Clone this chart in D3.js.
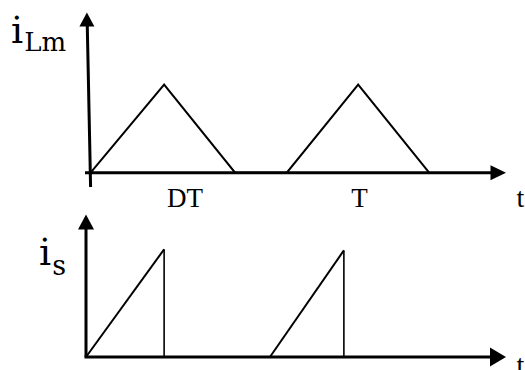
<!DOCTYPE html>
<html>
<head>
<meta charset="utf-8">
<script src="https://cdn.jsdelivr.net/npm/d3@7"></script>
<style>
  html, body { margin: 0; padding: 0; background: #fff; }
  svg { display: block; }
</style>
</head>
<body>
<script>
// Magnetizing current i_Lm: two triangular pulses per period
const tLm = [0.11, 1.86, 3.55, 4.78, 6.48, 8.17];
const iLm = [0, 1, 0, 0, 1, 0];

// Switch current i_s: ramps that drop to zero when the switch opens
const tS = [0, 1.86, 1.86, 4.38, 6.14, 6.14];
const iS = [0, 1, 0, 0, 0.99, 0];

// Time-axis tick labels
const tickLabels = ["DT", "T"];
const tickTimes = [2.36, 6.51];

const W = 525, H = 370;
const svg = d3.select("body").append("svg")
  .attr("width", W).attr("height", H)
  .attr("viewBox", `0 0 ${W} ${H}`);

// shared time scale
const x = d3.scaleLinear().domain([0, 10]).range([86, 506]);

// one y scale per panel
const yTop = d3.scaleLinear().domain([0, 1]).range([172.7, 84.5]);
const yBot = d3.scaleLinear().domain([0, 1]).range([357, 249.3]);

const line = (y) => d3.line().x(d => x(d[0])).y(d => y(d[1]));

function arrowHead(g, tipX, tipY, dir, len, half) {
  let pts;
  if (dir === "right") pts = [[tipX, tipY], [tipX - len, tipY - half], [tipX - len, tipY + half]];
  else pts = [[tipX, tipY], [tipX - half, tipY + len], [tipX + half, tipY + len]];
  g.append("path").attr("d", "M" + pts.join("L") + "Z").attr("fill", "#000");
}

const serif = "'Liberation Serif', 'Times New Roman', serif";

// ---------- upper panel ----------
const gTop = svg.append("g");
// vertical axis (slightly leaning, hand-drawn look)
gTop.append("line")
  .attr("x1", 87.2).attr("y1", 22).attr("x2", 90.6).attr("y2", 187)
  .attr("stroke", "#000").attr("stroke-width", 3);
arrowHead(gTop, 86.9, 12.5, "up", 14, 7.5);
// horizontal axis
gTop.append("line")
  .attr("x1", 85).attr("y1", yTop(0)).attr("x2", 495).attr("y2", yTop(0))
  .attr("stroke", "#000").attr("stroke-width", 3);
arrowHead(gTop, 506, yTop(0), "right", 15.5, 7.5);

gTop.append("path")
  .datum(d3.zip(tLm, iLm))
  .attr("d", line(yTop))
  .attr("fill", "none").attr("stroke", "#000").attr("stroke-width", 2)
  .attr("stroke-linejoin", "miter");

// tick labels under the upper time axis
gTop.selectAll("text.tick")
  .data(d3.zip(tickLabels, tickTimes))
  .join("text")
  .attr("class", "tick")
  .attr("x", d => x(d[1])).attr("y", 206.5)
  .attr("text-anchor", "middle")
  .attr("font-family", serif)
  .attr("font-size", 27)
  .text(d => d[0]);

gTop.append("text")
  .attr("x", 516.5).attr("y", 207)
  .attr("font-family", serif)
  .attr("font-size", 28)
  .text("t");

// i_Lm label
const lblTop = gTop.append("text")
  .attr("x", 11).attr("y", 42.7)
  .attr("font-family", "'DejaVu Serif', serif");
lblTop.append("tspan").attr("font-size", 38).text("i");
lblTop.append("tspan").attr("font-size", 26).attr("dx", 1).attr("dy", 8).text("Lm");

// ---------- lower panel ----------
const gBot = svg.append("g");
gBot.append("line")
  .attr("x1", 86).attr("y1", 226).attr("x2", 86).attr("y2", yBot(0))
  .attr("stroke", "#000").attr("stroke-width", 3);
arrowHead(gBot, 86, 214.5, "up", 15, 8);
gBot.append("line")
  .attr("x1", 84.5).attr("y1", yBot(0)).attr("x2", 495).attr("y2", yBot(0))
  .attr("stroke", "#000").attr("stroke-width", 3);
arrowHead(gBot, 506, yBot(0), "right", 16, 9.5);

// ramps (rising edges) and the sharp turn-off edges
const segs = d3.zip(tS, iS);
for (let k = 0; k < segs.length - 1; k++) {
  const a = segs[k], b = segs[k + 1];
  if (a[1] === 0 && b[1] === 0) continue;
  const vertical = a[0] === b[0];
  gBot.append("path")
    .datum([a, b])
    .attr("d", line(yBot))
    .attr("fill", "none").attr("stroke", "#000")
    .attr("stroke-width", vertical ? 1.6 : 2);
}

gBot.append("text")
  .attr("x", 516.5).attr("y", 374)
  .attr("font-family", serif)
  .attr("font-size", 28)
  .text("t");

// i_s label
const lblBot = gBot.append("text")
  .attr("x", 39).attr("y", 265)
  .attr("font-family", "'DejaVu Serif', serif");
lblBot.append("tspan").attr("font-size", 38).text("i");
lblBot.append("tspan").attr("font-size", 27).attr("dx", 1).attr("dy", 10).text("s");
</script>
</body>
</html>
